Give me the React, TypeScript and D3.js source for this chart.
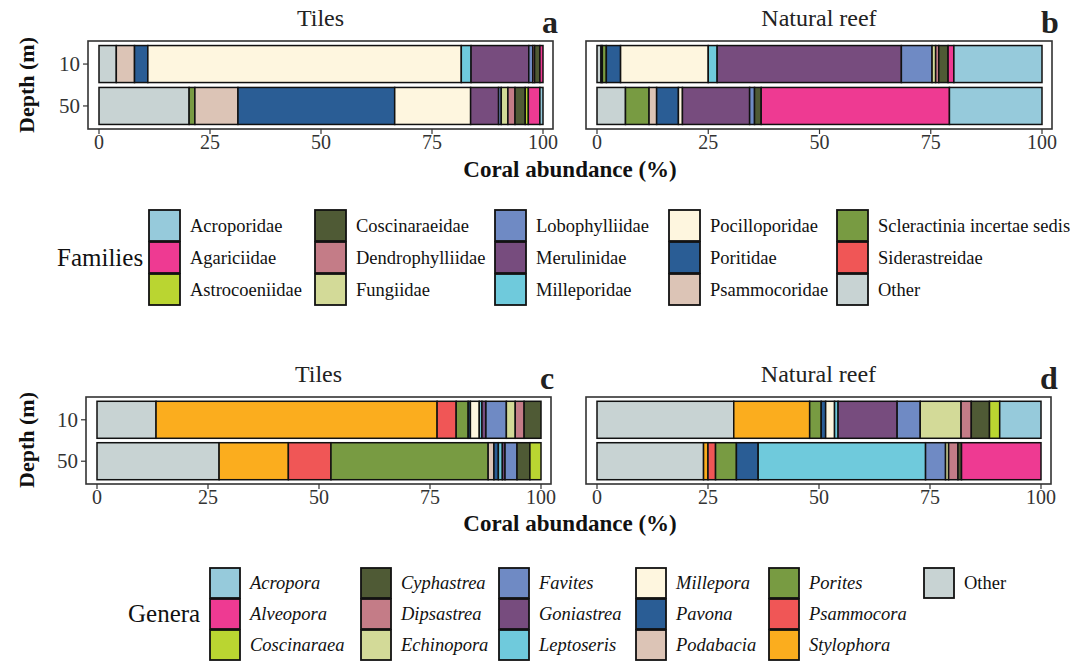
import * as d3 from 'd3'

const depths = ["10", "50"]

const families = [
  "Acroporidae", "Agariciidae", "Astrocoeniidae", "Coscinaraeidae", "Dendrophylliidae",
  "Fungiidae", "Lobophylliidae", "Merulinidae", "Milleporidae", "Pocilloporidae",
  "Poritidae", "Psammocoridae", "Scleractinia incertae sedis", "Siderastreidae", "Other",
]
const familyColors = [
  "#96CADB", "#EE3A92", "#BAD531", "#4F5A35", "#C47C87",
  "#D3DA98", "#6F8AC4", "#774C7E", "#6FCADC", "#FEF6DF",
  "#2A5D95", "#DCC4B6", "#789B42", "#F05656", "#C8D3D3",
]

const genera = [
  "Acropora", "Alveopora", "Coscinaraea", "Cyphastrea", "Dipsastrea", "Echinopora",
  "Favites", "Goniastrea", "Leptoseris", "Millepora", "Pavona", "Podabacia",
  "Porites", "Psammocora", "Stylophora", "Other",
]
const generaColors = [
  "#96CADB", "#EE3A92", "#BAD531", "#4F5A35", "#C47C87", "#D3DA98",
  "#6F8AC4", "#774C7E", "#6FCADC", "#FEF6DF", "#2A5D95", "#DCC4B6",
  "#789B42", "#F05656", "#FBAD1E", "#C8D3D3",
]

// values in legend order (%)
const tilesFam10 = [0, 0.7, 0, 1.2, 0.4, 0, 0.9, 13.0, 2.2, 70.6, 3.0, 4.1, 0, 0, 3.9]
const tilesFam50 = [0.7, 2.6, 0.7, 2.3, 1.6, 1.5, 0.6, 6.3, 0, 17.1, 35.3, 9.7, 1.3, 0, 20.3]
const reefFam10 = [19.8, 1.3, 0, 2.1, 0.7, 0.8, 6.9, 41.4, 2.0, 19.7, 3.2, 0, 0.9, 0.3, 0.9]
const reefFam50 = [20.8, 42.3, 0, 1.5, 0, 0, 1.1, 15.1, 0, 0.9, 4.9, 1.7, 5.3, 0, 6.4]

const tilesGen10 = [0, 0, 0, 3.8, 2.0, 2.0, 4.6, 0.9, 0.6, 2.0, 0.5, 0, 2.7, 4.3, 63.3, 13.3]
const tilesGen50 = [0, 0, 2.5, 2.9, 0, 0, 2.7, 0.6, 0.9, 0, 1.0, 1.3, 35.4, 9.6, 15.6, 27.5]
const reefGen10 = [9.3, 0, 2.3, 4.1, 2.3, 9.2, 5.2, 13.3, 0.8, 2.0, 1.0, 0, 2.6, 0, 17.1, 30.8]
const reefGen50 = [0, 17.9, 0, 0.8, 2.1, 0.7, 4.5, 0, 37.7, 0, 4.9, 0, 4.7, 1.7, 1.0, 24.0]

const xTicks = [0, 25, 50, 75, 100]
const FONT = "'Liberation Serif', 'Times New Roman', serif"

function makeRows(keys: string[], v10: number[], v50: number[]) {
  return [v10, v50].map((vals, i) => {
    const row: any = { depth: depths[i] }
    keys.forEach((k, j) => { row[k] = vals[j] })
    return row
  })
}

function Panel({ fx0, fx1, fy0, fy1, title, letter, keys, colors, rows, showY }: any) {
  const x = d3.scaleLinear().domain([0, 100]).range([fx0 + 11, fx1 - 10])
  const y = d3.scalePoint().domain(depths).range([fy0, fy1]).padding(0.55)
  const bh = 37
  // stack from "Other" first, reverse of legend order
  const stackKeys = keys.slice().reverse()
  const series = d3.stack().keys(stackKeys)(rows)
  const colorOf = d3.scaleOrdinal<string, string>().domain(keys).range(colors)

  return (
    <g>
      <text x={(fx0 + fx1) / 2} y={fy0 - 15} textAnchor="middle" fontSize={24} fontFamily={FONT} fill="#222">{title}</text>
      <text x={fx1 - 11} y={fy0 - 8} fontSize={32} fontWeight="bold" fontFamily={FONT} fill="#222">{letter}</text>
      {series.map(s => (
        <g key={s.key} fill={colorOf(s.key)}>
          {s.map((d: any, i: number) => (
            d[1] - d[0] > 0 ? (
              <rect key={i} x={x(d[0])} y={(y(d.data.depth) as number) - bh / 2}
                width={x(d[1]) - x(d[0])} height={bh} stroke="#111" strokeWidth={1.5} />
            ) : null
          ))}
        </g>
      ))}
      <rect x={fx0} y={fy0} width={fx1 - fx0} height={fy1 - fy0} fill="none" stroke="#333" strokeWidth={1.6} />
      {xTicks.map(t => (
        <g key={t}>
          <line x1={x(t)} x2={x(t)} y1={fy1} y2={fy1 + 5} stroke="#333" strokeWidth={1.2} />
          <text x={x(t)} y={fy1 + 20} textAnchor="middle" fontSize={20} fontFamily={FONT} fill="#333">{t}</text>
        </g>
      ))}
      {showY && depths.map(d => (
        <g key={d}>
          <line x1={fx0 - 5} x2={fx0} y1={y(d)} y2={y(d)} stroke="#333" strokeWidth={1.2} />
          <text x={fx0 - 8} y={(y(d) as number) + 7} textAnchor="end" fontSize={21} fontFamily={FONT} fill="#333">{d}</text>
        </g>
      ))}
    </g>
  )
}

function Legend({ title, titleX, titleY, keys, colors, colX, rowY, size, italicAll }: any) {
  return (
    <g fontFamily={FONT}>
      <text x={titleX} y={titleY} fontSize={25} fill="#111">{title}</text>
      {keys.map((k: string, i: number) => {
        const c = Math.floor(i / 3)
        const r = i % 3
        const kx = colX[c]
        const ky = rowY[r]
        return (
          <g key={k}>
            <rect x={kx} y={ky} width={size} height={size} fill={colors[i]} stroke="#111" strokeWidth={1.8} />
            <text x={kx + size + 10} y={ky + size / 2 + 6} fontSize={18.5} fill="#111"
              fontStyle={italicAll && k !== "Other" ? "italic" : "normal"}>{k}</text>
          </g>
        )
      })}
    </g>
  )
}

export default function App() {
  const famRows = (a: number[], b: number[]) => makeRows(families, a, b)
  const genRows = (a: number[], b: number[]) => makeRows(genera, a, b)
  return (
    <svg width={1083} height={663} style={{ position: 'absolute', left: 0, top: 0, background: '#fff' }}>
      <Panel fx0={88} fx1={553} fy0={41} fy1={129} title="Tiles" letter="a"
        keys={families} colors={familyColors} rows={famRows(tilesFam10, tilesFam50)} showY />
      <Panel fx0={586} fx1={1052} fy0={41} fy1={129} title="Natural reef" letter="b"
        keys={families} colors={familyColors} rows={famRows(reefFam10, reefFam50)} />
      <text x={570} y={177} textAnchor="middle" fontSize={23} fontWeight="bold" fontFamily={FONT} fill="#111">Coral abundance (%)</text>
      <text transform="translate(34,85) rotate(-90)" textAnchor="middle" fontSize={22} fontWeight="bold" fontFamily={FONT} fill="#111">Depth (m)</text>

      <Legend title="Families" titleX={57} titleY={266} keys={families} colors={familyColors}
        colX={[149, 315, 495, 669, 837]} rowY={[210, 242, 274]} size={31} />

      <Panel fx0={86} fx1={551} fy0={397} fy1={484} title="Tiles" letter="c"
        keys={genera} colors={generaColors} rows={genRows(tilesGen10, tilesGen50)} showY />
      <Panel fx0={586} fx1={1051} fy0={397} fy1={484} title="Natural reef" letter="d"
        keys={genera} colors={generaColors} rows={genRows(reefGen10, reefGen50)} />
      <text x={570} y={531} textAnchor="middle" fontSize={23} fontWeight="bold" fontFamily={FONT} fill="#111">Coral abundance (%)</text>
      <text transform="translate(34,440) rotate(-90)" textAnchor="middle" fontSize={22} fontWeight="bold" fontFamily={FONT} fill="#111">Depth (m)</text>

      <Legend title="Genera" titleX={128} titleY={622} keys={genera} colors={generaColors}
        colX={[210, 361, 499, 636, 769, 924]} rowY={[568, 599, 630]} size={30} italicAll />
    </svg>
  )
}
